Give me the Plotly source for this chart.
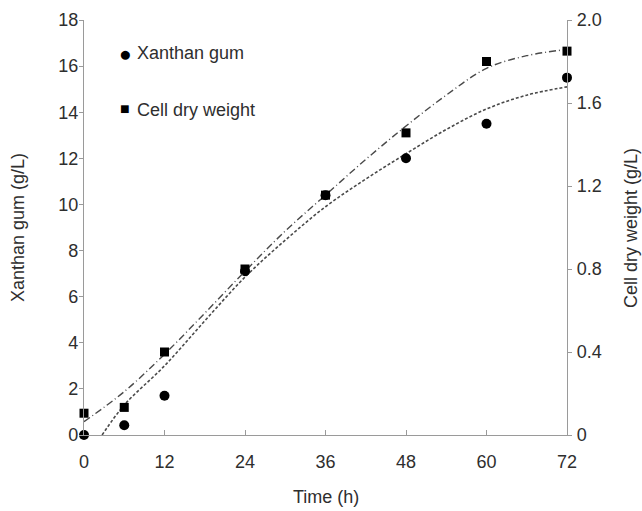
import plotly.graph_objects as go

# Measured data
time_h = [0, 6, 12, 24, 36, 48, 60, 72]
xanthan_gum = [0.0, 0.42, 1.7, 7.1, 10.4, 12.0, 13.5, 15.5]          # g/L (left axis)
cell_dry_weight = [0.105, 0.133, 0.40, 0.80, 1.156, 1.456, 1.80, 1.85]  # g/L (right axis)

# Fitted curves
fit_time_xg = [2.7, 6, 12, 18, 24, 30, 36, 42, 48, 54, 60, 66, 72]
fit_xanthan = [0.0, 1.3, 3.0, 4.95, 6.85, 8.45, 9.9, 11.1, 12.2, 13.25, 14.14, 14.74, 15.1]
fit_time_cdw = [0, 6, 12, 18, 24, 30, 36, 42, 48, 54, 60, 66, 72]
fit_cdw = [0.064, 0.209, 0.389, 0.587, 0.789, 0.983, 1.156, 1.328, 1.489, 1.638, 1.767, 1.828, 1.858]

x_ticks = [0, 12, 24, 36, 48, 60, 72]
y_left_ticks = [0, 2, 4, 6, 8, 10, 12, 14, 16, 18]
y_right_ticks = [0, 0.4, 0.8, 1.2, 1.6, 2.0]
y_right_labels = ["0", "0.4", "0.8", "1.2", "1.6", "2.0"]

FONT = "Liberation Sans, Arial, Helvetica, sans-serif"
TXT = "#2e2e2e"
AX = "#9a9a9a"
LINE = "#4a4a4a"
FS = 18

fig = go.Figure()

fig.add_trace(go.Scatter(
    x=fit_time_xg, y=fit_xanthan, mode="lines", line_shape="spline",
    line=dict(color=LINE, width=1.6, dash="3px,2px"), showlegend=False, hoverinfo="skip"))
fig.add_trace(go.Scatter(
    x=fit_time_cdw, y=fit_cdw, mode="lines", line_shape="spline", yaxis="y2",
    line=dict(color=LINE, width=1.4, dash="7px,3px,1px,3px"), showlegend=False, hoverinfo="skip"))

fig.add_trace(go.Scatter(
    x=time_h, y=xanthan_gum, mode="markers", name="Xanthan gum",
    marker=dict(symbol="circle", size=10, color="black"), showlegend=False, cliponaxis=False))
fig.add_trace(go.Scatter(
    x=time_h, y=cell_dry_weight, mode="markers", name="Cell dry weight", yaxis="y2",
    marker=dict(symbol="square", size=9, color="black"), showlegend=False, cliponaxis=False))

W, H = 642, 511
L, R, T, B = 84, 75, 20, 76

fig.update_layout(
    width=W, height=H,
    margin=dict(l=L, r=R, t=T, b=B, autoexpand=False),
    paper_bgcolor="white", plot_bgcolor="white",
    font=dict(family=FONT, color=TXT, size=FS),
    showlegend=False,
    xaxis=dict(range=[0, 72], tickvals=x_ticks, showgrid=False, zeroline=False,
               showline=True, linecolor=AX, linewidth=1.2, automargin=False,
               ticks="inside", ticklen=5, tickcolor=AX, ticklabelstandoff=10,
               tickfont=dict(size=FS, color=TXT)),
    yaxis=dict(range=[0, 18], tickvals=y_left_ticks, showgrid=False, zeroline=False,
               showline=True, linecolor=AX, linewidth=1.2, automargin=False,
               ticks="outside", ticklen=4, tickcolor=AX, ticklabelstandoff=-3,
               tickfont=dict(size=FS, color=TXT)),
    yaxis2=dict(range=[0, 2.0], tickvals=y_right_ticks, ticktext=y_right_labels,
                overlaying="y", side="right", showgrid=False, zeroline=False,
                showline=True, linecolor=AX, linewidth=1.2, automargin=False,
                ticks="outside", ticklen=4, tickcolor=AX, ticklabelstandoff=1,
                tickfont=dict(size=FS, color=TXT)),
)

# convert pixel-based legend/title positions to paper coords
pw, ph = W - L - R, H - T - B

def px(xp):
    return (xp - L) / pw

def py(yp):
    return (H - B - yp) / ph

ann = []
ann.append(dict(text="●", x=px(125), y=py(53), xanchor="center", yanchor="middle",
                font=dict(size=21, color="black")))
ann.append(dict(text="Xanthan gum", x=px(135), y=py(53), xanchor="left", yanchor="middle",
                font=dict(size=FS, color=TXT)))
ann.append(dict(text="■", x=px(125), y=py(109), xanchor="center", yanchor="middle",
                font=dict(size=16, color="black")))
ann.append(dict(text="Cell dry weight", x=px(135), y=py(110), xanchor="left", yanchor="middle",
                font=dict(size=FS, color=TXT)))
# axis titles
ann.append(dict(text="Time (h)", x=px(326), y=py(497), xanchor="center", yanchor="middle",
                font=dict(size=FS, color=TXT)))
ann.append(dict(text="Xanthan gum (g/L)", x=px(18), y=py(228), xanchor="center", yanchor="middle",
                textangle=-90, font=dict(size=FS, color=TXT)))
ann.append(dict(text="Cell dry weight (g/L)", x=px(631), y=py(228), xanchor="center", yanchor="middle",
                textangle=-90, font=dict(size=FS, color=TXT)))
for a in ann:
    a.update(xref="paper", yref="paper", showarrow=False)
fig.update_layout(annotations=ann)

fig.write_html("out.html", config={"displayModeBar": False},
               post_script="document.body.style.margin='0';")
